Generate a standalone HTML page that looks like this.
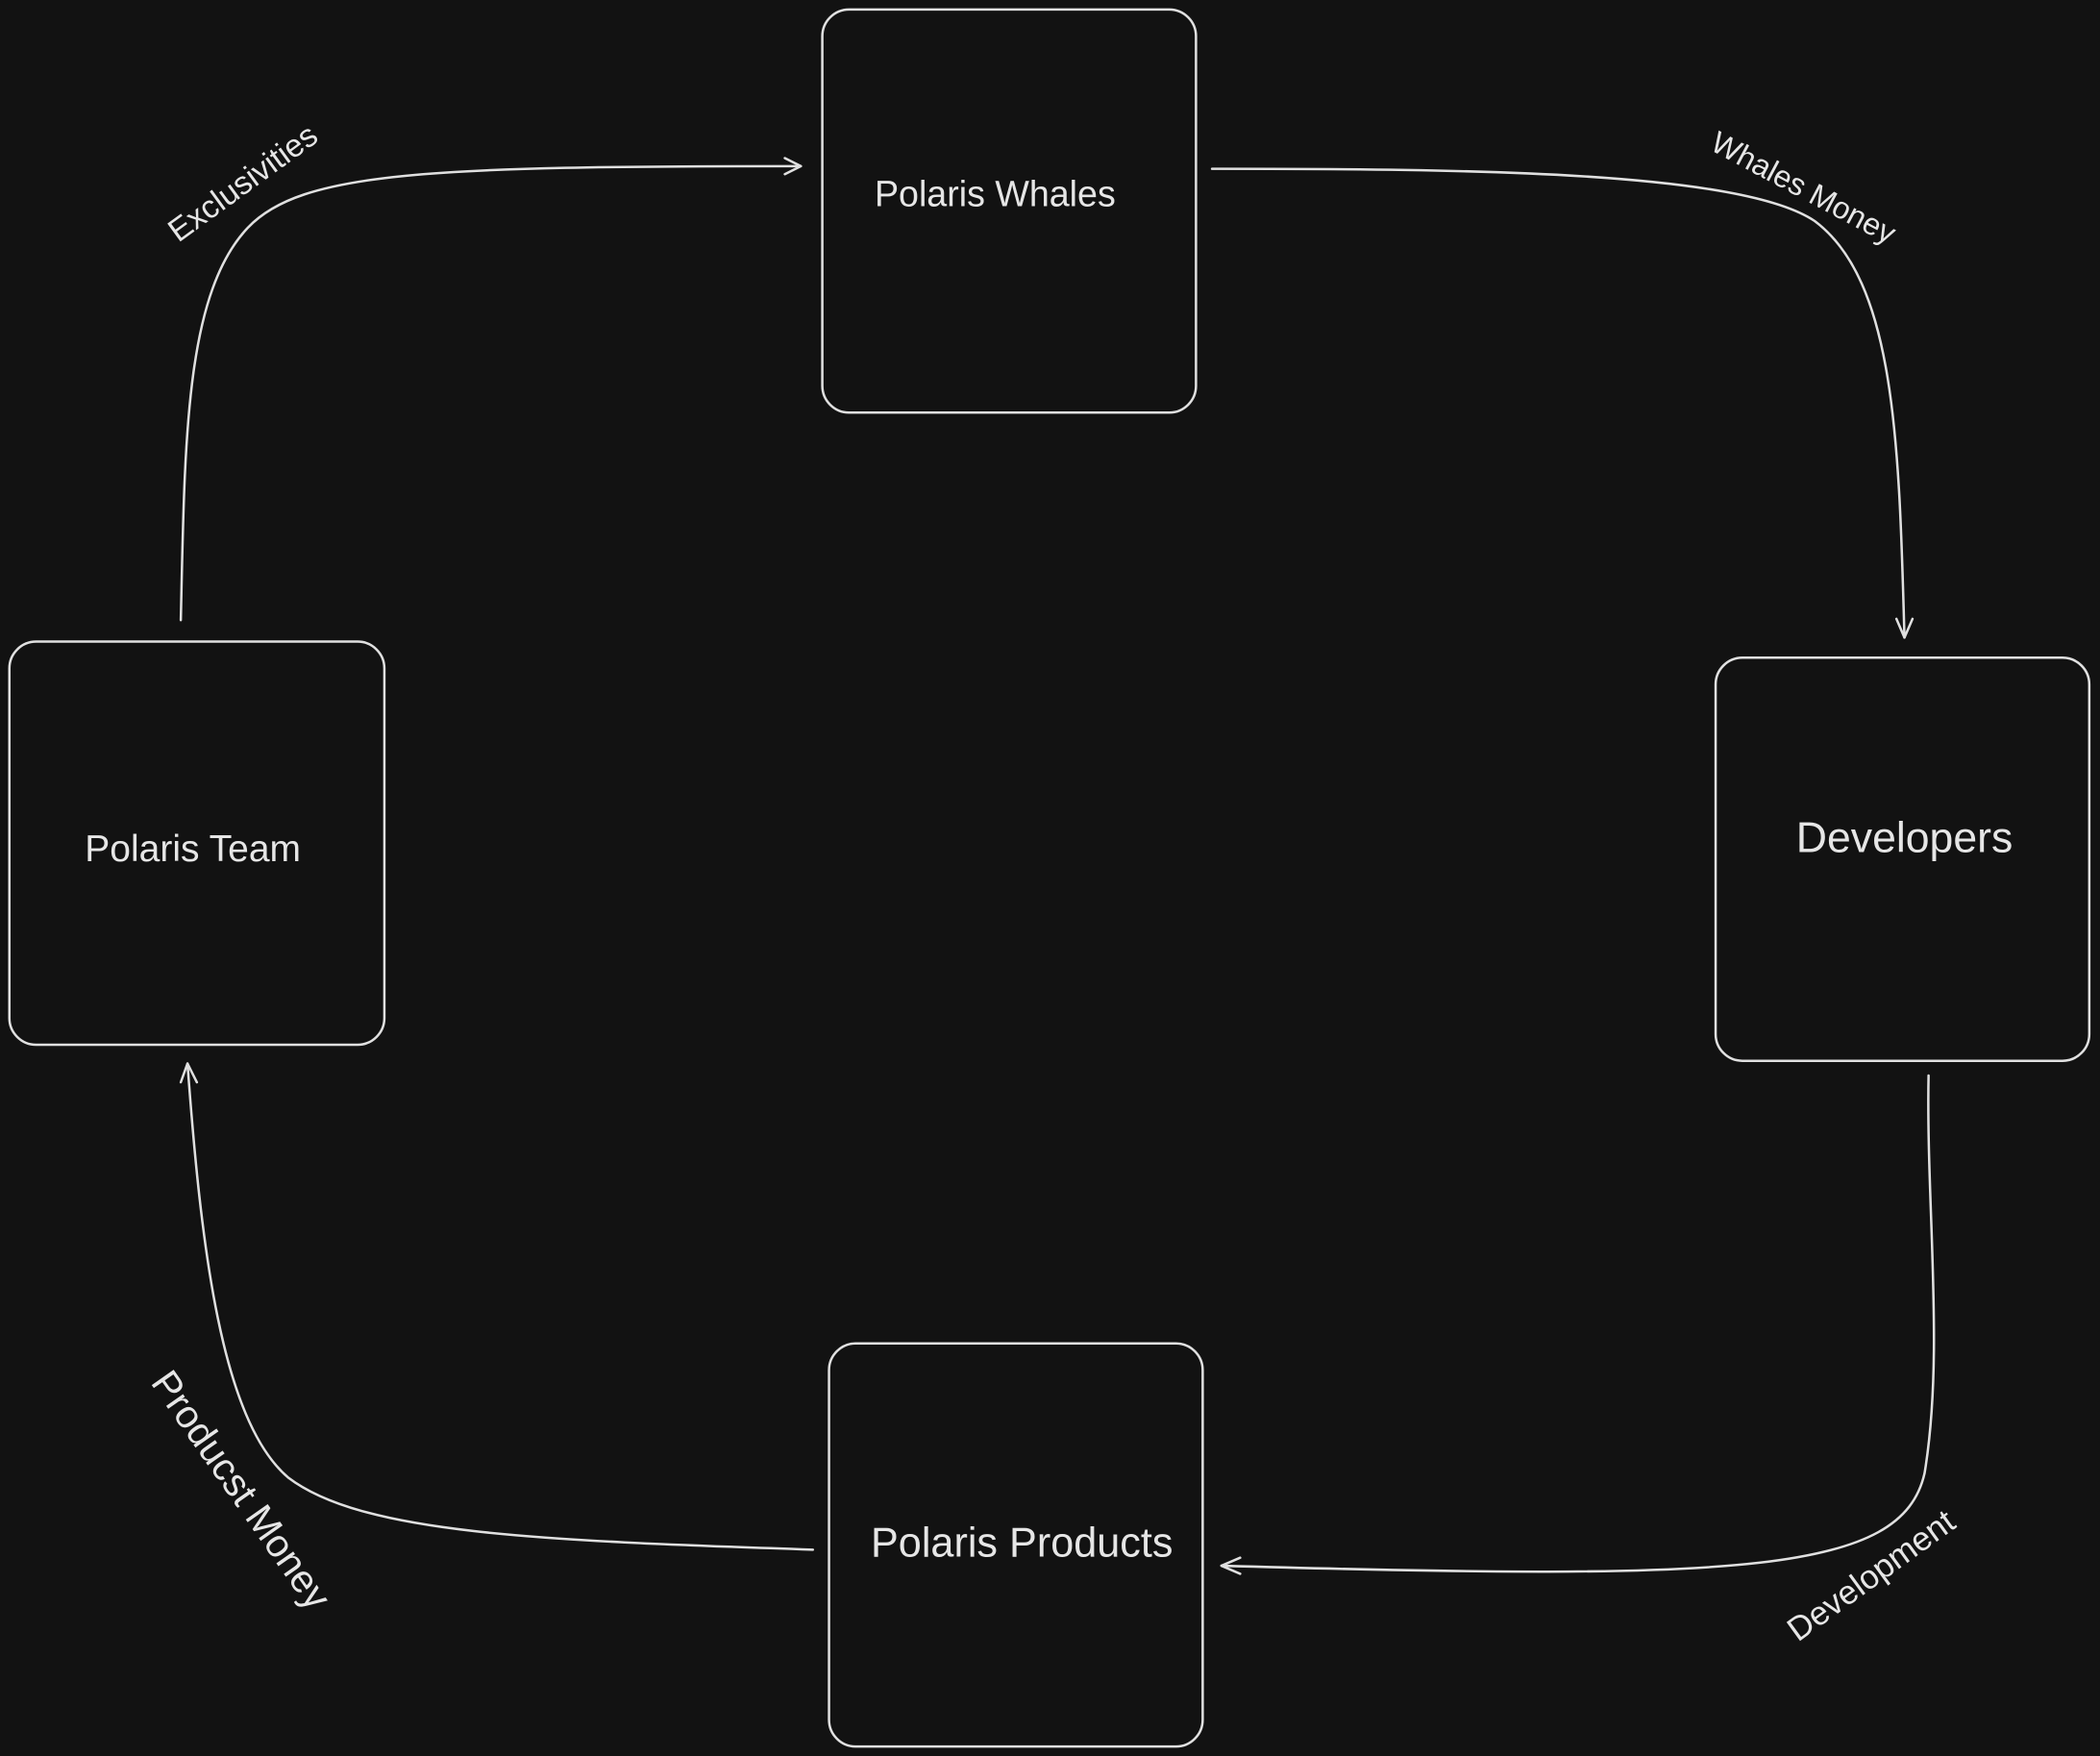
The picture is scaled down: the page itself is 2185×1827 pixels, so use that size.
<!DOCTYPE html>
<html><head><meta charset="utf-8"><style>
html,body{margin:0;padding:0;background:#121212;width:2185px;height:1827px;overflow:hidden}
svg{display:block}
text{font-family:"Liberation Sans",sans-serif;fill:#e6e6e6}
</style></head><body>
<svg width="2185" height="1827" viewBox="0 0 1568 1311" xmlns="http://www.w3.org/2000/svg">
<rect width="1568" height="1311" fill="#121212"/>
<g fill="none" stroke="#e0e0e0" stroke-width="1.8" stroke-linecap="round" stroke-linejoin="round">
<rect x="614" y="7" width="279" height="301" rx="20"/>
<rect x="7" y="479" width="280" height="301" rx="20"/>
<rect x="1281" y="491" width="279" height="301" rx="20"/>
<rect x="619" y="1003" width="279" height="301" rx="20"/>
<path d="M135 463 C138 330,138 220,185 170 C225 128,320 124,598 124"/>
<path d="M586 118 L598 124 L586 130"/>
<path d="M905 126 C1100 126,1300 128,1355 165 C1415 210,1418 330,1422 476"/>
<path d="M1416 462 L1422 476 L1428 462"/>
<path d="M1440 803 C1438 900,1452 1010,1437 1100 C1420 1175,1300 1180,912 1169"/>
<path d="M926 1163 L912 1169 L926 1175"/>
<path d="M607 1157 C400 1150,270 1145,215 1103 C165 1060,150 930,140 794"/>
<path d="M135 808 L140 794 L147 808"/>
</g>
<text x="743" y="154" font-size="27" text-anchor="middle">Polaris Whales</text>
<text x="144" y="643" font-size="28" text-anchor="middle">Polaris Team</text>
<text x="1422" y="636" font-size="32" text-anchor="middle">Developers</text>
<text x="763" y="1162" font-size="31" text-anchor="middle">Polaris Products</text>
<text font-size="24" text-anchor="middle" transform="translate(186,143) rotate(-36)">Exclusivities</text>
<text font-size="23" text-anchor="middle" transform="translate(1343,147) rotate(28)">Whales Money</text>
<text font-size="25" text-anchor="middle" transform="translate(1402,1183) rotate(-36)">Development</text>
<text font-size="29" text-anchor="middle" transform="translate(172,1118) rotate(55)">Producst Money</text>
</svg>
</body></html>
